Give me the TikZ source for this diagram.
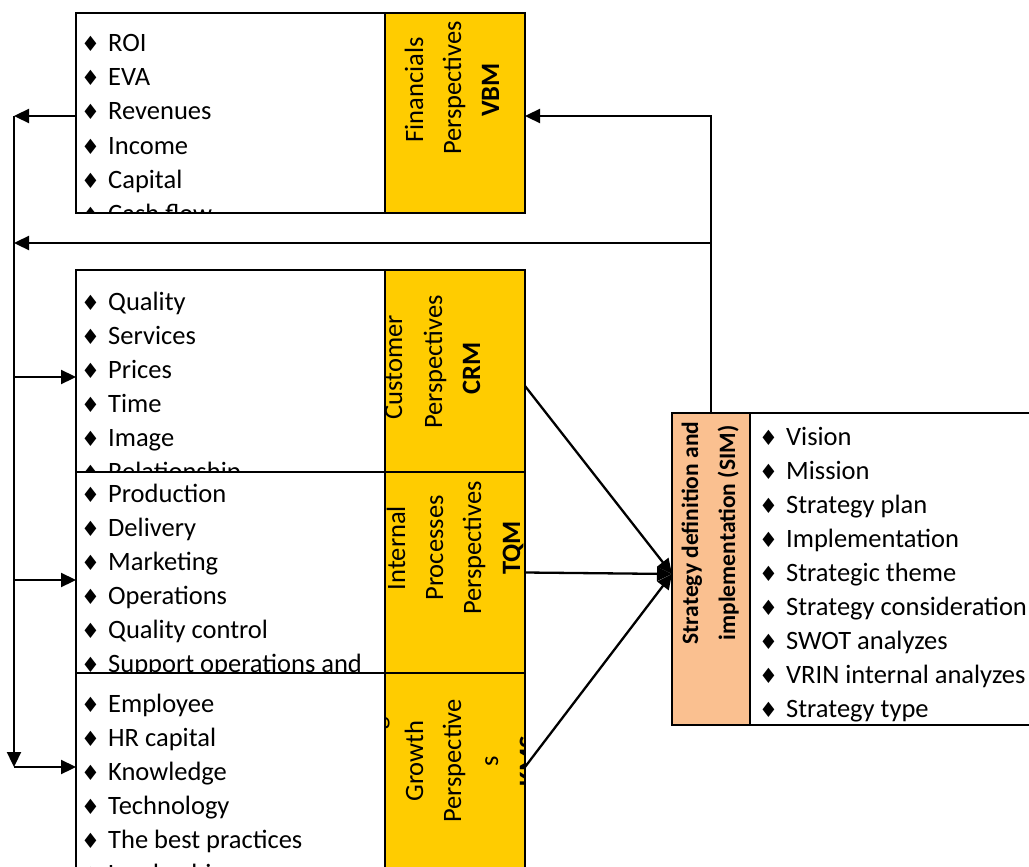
\documentclass[tikz,border=0pt]{standalone}
\usepackage{fontspec}
\setmainfont{Carlito}
\newfontfamily\symfnt{DejaVu Sans}
\usetikzlibrary{arrows.meta}
\definecolor{ylw}{HTML}{FFCC00}
\definecolor{peach}{HTML}{FAC090}
\newcommand\itm{\makebox[27pt][l]{\symfnt\fontsize{21}{21}\selectfont ♦}}
\begin{document}
\begin{tikzpicture}[x=1pt,y=-1pt,
  area/.style={anchor=north west, inner sep=0pt, outer sep=0pt, draw=none},
  wfill/.style={area, fill=white},
  yfill/.style={area, fill=ylw},
  pfill/.style={area, fill=peach},
  bd/.style={draw=black, line width=1.8pt},
  arr/.style={draw=black, line width=2.3pt, -{Triangle[length=15pt,width=14pt]}},
  item/.style={anchor=base west, inner sep=0pt, font=\fontsize{26.5}{30}\selectfont},
  vt/.style={anchor=base, rotate=90, inner sep=0pt, font=\fontsize{26.5}{30}\selectfont},
  vtb/.style={vt, font=\fontsize{26.5}{30}\selectfont\bfseries},
  simlbl/.style={vt, font=\fontsize{23.5}{28}\selectfont\bfseries}]
\useasboundingbox[fill=white] (0,0) rectangle (1029,867);
% boxes
\node[wfill, minimum width=309pt, minimum height=200pt] (finL) at (76,13) {};
\node[yfill, minimum width=140pt, minimum height=200pt] (finR) at (385,13) {};
\node[wfill, minimum width=309pt, minimum height=202pt] (crmL) at (76,270) {};
\node[yfill, minimum width=140pt, minimum height=202pt] (crmR) at (385,270) {};
\node[wfill, minimum width=309pt, minimum height=201pt] (tqmL) at (76,472) {};
\node[yfill, minimum width=140pt, minimum height=201pt] (tqmR) at (385,472) {};
\node[wfill, minimum width=309pt, minimum height=207pt] (grwL) at (76,673) {};
\node[yfill, minimum width=140pt, minimum height=207pt] (grwR) at (385,673) {};
\node[pfill, minimum width=78pt, minimum height=312pt] (simL) at (672,413) {};
\node[wfill, minimum width=300pt, minimum height=312pt] (simR) at (750,413) {};
% lists
\begin{scope}
\clip (finL.north west) rectangle (finL.south east);
\foreach \t [count=\i] in {ROI,EVA,Revenues,Income,Capital,Cash flow}
  \node[item] (fin\i) at (81,{52+34*(\i-1)}) {\itm\t};
\end{scope}
\begin{scope}
\clip (crmL.north west) rectangle (crmL.south east);
\foreach \t [count=\i] in {Quality,Services,Prices,Time,Image,Relationship}
  \node[item] (crm\i) at (81,{310+34*(\i-1)}) {\itm\t};
\end{scope}
\begin{scope}
\clip (tqmL.north west) rectangle (tqmL.south east);
\foreach \t [count=\i] in {Production,Delivery,Marketing,Operations,Quality control,Support operations and}
  \node[item] (tqm\i) at (81,{502+34*(\i-1)}) {\itm\t};
\end{scope}
\begin{scope}
\clip (grwL.north west) rectangle (grwL.south east);
\foreach \t [count=\i] in {Employee,HR capital,Knowledge,Technology,The best practices,Leadership}
  \node[item] (grw\i) at (81,{712+34*(\i-1)}) {\itm\t};
\end{scope}
\begin{scope}
\clip (simR.north west) rectangle (simR.south east);
\foreach \t [count=\i] in {Vision,Mission,Strategy plan,Implementation,Strategic theme,Strategy consideration,SWOT analyzes,VRIN internal analyzes,Strategy type}
  \node[item] (sim\i) at (759,{445+34*(\i-1)}) {\itm\t};
\end{scope}
% rotated labels
\begin{scope}
\clip (finR.north west) rectangle (finR.south east);
\node[vt] (finA) at (423,90) {Financials};
\node[vt] (finB) at (461,88) {Perspectives};
\node[vtb] (finC) at (499,90) {VBM};
\end{scope}
\begin{scope}
\clip (crmR.north west) rectangle (crmR.south east);
\node[vt] (crmA) at (402,367) {Customer};
\node[vt] (crmB) at (442,362) {Perspectives};
\node[vtb] (crmC) at (480,368) {CRM};
\end{scope}
\begin{scope}
\clip (tqmR.north west) rectangle (tqmR.south east);
\node[vt] (tqmA) at (405,548) {Internal};
\node[vt] (tqmB) at (443,548) {Processes};
\node[vt] (tqmC) at (481,548) {Perspectives};
\node[vtb] (tqmD) at (520,548) {TQM};
\end{scope}
\begin{scope}
\clip (grwR.north west) rectangle (grwR.south east);
\node[vt] (grwA) at (385,740) {Learning and};
\node[vt] (grwB) at (423,761) {Growth};
\node[vt] (grwC) at (461,761) {Perspective};
\node[vt] (grwD) at (498,761) {s};
\node[vtb] (grwE) at (537,761) {KMS};
\end{scope}
\node[simlbl] (simA) at (698,533) {Strategy definition and};
\node[simlbl] (simB) at (735,533) {implementation (SIM)};
% borders
\foreach \n in {finL,finR,crmL,crmR,tqmL,tqmR,grwL,grwR,simL,simR}
  \draw[bd] (\n.north west) rectangle (\n.south east);
% connectors
\coordinate (vtop) at (14,116);
\coordinate (vbot) at (14,767);
\coordinate (vcrm) at (14,377);
\coordinate (vtqm) at (14,580);
\coordinate (h243) at (14,243);
\coordinate (rtop) at (711,116);
\coordinate (tin) at (672,574);
\draw[arr] (finL.west |- vtop) -- (vtop);
\draw[arr] (vtop) -- (vbot);
\draw[arr] (vbot) -- (grwL.west |- vbot);
\draw[arr] (vcrm) -- (crmL.west |- vcrm);
\draw[arr] (vtqm) -- (tqmL.west |- vtqm);
\draw[arr] (simL.north) -- (rtop) -- (finR.east |- rtop);
\draw[arr] (simL.north |- h243) -- (h243);
\draw[arr] ([yshift=-15pt]crmR.east) -- (tin);
\draw[arr] (tqmR.east) -- (tin);
\draw[arr] (grwR.east |- vbot) -- (tin);
\end{tikzpicture}
\end{document}
